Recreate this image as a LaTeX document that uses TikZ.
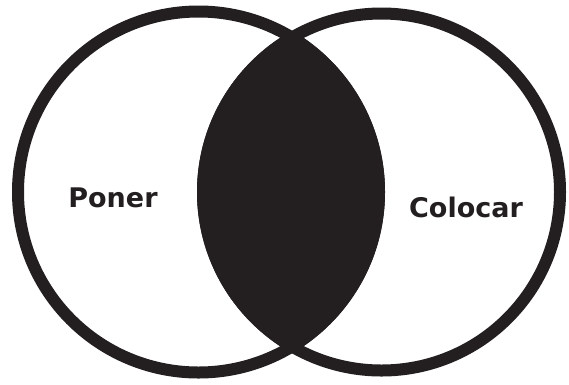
\documentclass[tikz,border=0pt]{standalone}
\usepackage{fontspec}
\setsansfont{DejaVu Sans}
\usepackage{tikz}
\usetikzlibrary{positioning}

\definecolor{ink}{HTML}{231F20}

\begin{document}
\begin{tikzpicture}[
    x=1pt, y=-1pt,
    ring/.style={draw=ink, line width=12pt},
    lbl/.style={font=\sffamily\bfseries\fontsize{27}{27}\selectfont, text=ink, anchor=base},
]
\useasboundingbox (0,0) rectangle (569,384);

% centres of the two sets
\coordinate (cl) at (198.5,192);
\coordinate (cr) at (381.5,192);

% overlap (lens), filled
\begin{scope}
    \clip (cl) circle (186.5);
    \fill[ink] (cr) circle (184.5);
\end{scope}

% the two rings
\draw[ring] (cl) circle (180.5);
\draw[ring] (cr) circle (178.5);

% labels
\node[lbl] (poner)   at (113,207) {Poner};
\node[lbl] (colocar) at (466,217) {Colocar};
\end{tikzpicture}
\end{document}
